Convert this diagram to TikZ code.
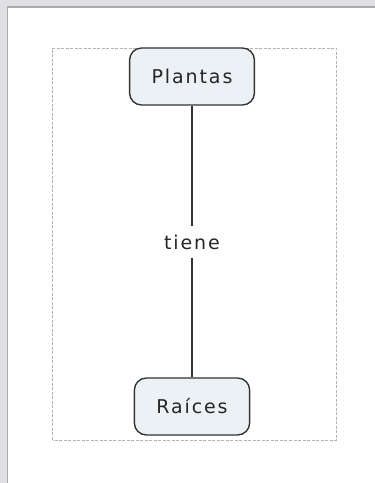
\documentclass[tikz,border=0pt]{standalone}
\usepackage{fontspec}
\newfontfamily\mapfont[LetterSpace=10]{DejaVu Sans}
\definecolor{conceptfill}{HTML}{EBF1F4}
\definecolor{conceptline}{HTML}{333333}
\definecolor{frameband}{HTML}{DFDFE4}
\definecolor{frameline}{HTML}{A9A9AE}
\begin{document}
\begin{tikzpicture}[x=1pt,y=1pt,
  concept/.style={draw=conceptline,fill=conceptfill,line width=1.4pt,rounded corners=12pt,minimum height=57pt,inner xsep=22pt,font=\mapfont\fontsize{19}{22}\selectfont,text=black!85},
  linkword/.style={inner xsep=2pt,inner ysep=8pt,font=\mapfont\fontsize{19}{22}\selectfont,text=black!85}]
\useasboundingbox (0,0) rectangle (375,483);
% window frame
\fill[white] (0,0) rectangle (375,483);
\fill[frameband] (0,476) rectangle (375,483);
\fill[frameband] (0,0) rectangle (8,483);
\draw[frameline,line width=1.5pt] (7.5,0) -- (7.5,476) -- (375,476);
% map area
\draw[black!30,line width=0.8pt,dash pattern=on 3pt off 1.5pt] (52.5,43) rectangle (336,435);
\node[concept] (plantas) at (192,406.5) {Plantas};
\node[concept] (raices) at (192,76.5) {Raíces};
\node[linkword] (tiene) at (192,241) {tiene};
\foreach \a/\b in {plantas/tiene,tiene/raices}
  \draw[conceptline,line width=1.3pt] (\a) -- (\b);
\end{tikzpicture}
\end{document}
